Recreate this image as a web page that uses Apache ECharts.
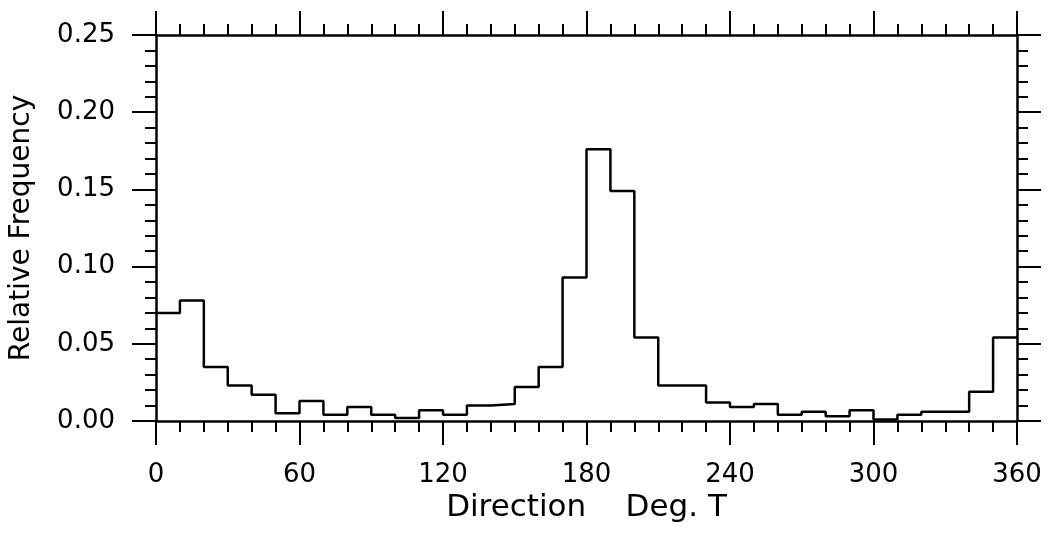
<!DOCTYPE html>
<html>
<head>
<meta charset="utf-8">
<script src="https://cdn.jsdelivr.net/npm/echarts@6/dist/echarts.min.js"></script>
<style>
  html, body { margin: 0; padding: 0; background: #fff; }
  #chart { width: 1055px; height: 539px; }
</style>
</head>
<body>
<div id="chart"></div>
<script>
// 方向分箱起点（度），每箱 10 度
var binStart = [0, 10, 20, 30, 40, 50, 60, 70, 80, 90, 100, 110,
    120, 130, 140, 150, 160, 170, 180, 190, 200, 210, 220, 230,
    240, 250, 260, 270, 280, 290, 300, 310, 320, 330, 340, 350];
var binWidth = 10;
// 相对频率
var freq = [0.070, 0.078, 0.035, 0.023, 0.017, 0.005, 0.013, 0.004, 0.009, 0.004, 0.002, 0.007,
    0.004, 0.010, 0.011, 0.022, 0.035, 0.093, 0.176, 0.149, 0.054, 0.023, 0.023, 0.012,
    0.009, 0.011, 0.004, 0.006, 0.003, 0.007, 0.001, 0.004, 0.006, 0.006, 0.019, 0.054];
var xTicks = [0, 60, 120, 180, 240, 300, 360];
var yTicks = [0, 0.05, 0.10, 0.15, 0.20, 0.25];

// 阶梯线的点：每个箱的起点，再补上最后一个箱的终点
var stepData = binStart.map(function (x, i) { return [x, freq[i]]; });
stepData.push([binStart[binStart.length - 1] + binWidth, freq[freq.length - 1]]);

var font = 'DejaVu Sans';
var black = '#000';

function xAxisOpt(pos, showLabel) {
    return {
        type: 'value',
        position: pos,
        min: xTicks[0],
        max: xTicks[xTicks.length - 1],
        interval: xTicks[1] - xTicks[0],
        axisLine: { onZero: false, lineStyle: { color: black, width: 2.5 } },
        axisTick: { length: 24, lineStyle: { color: black, width: 2 } },
        minorTick: { show: true, splitNumber: 6, length: 11, lineStyle: { color: black, width: 2 } },
        splitLine: { show: false },
        axisLabel: { show: showLabel, margin: 41, color: black, fontFamily: font, fontSize: 26 }
    };
}

function yAxisOpt(pos, showLabel) {
    return {
        type: 'value',
        position: pos,
        min: yTicks[0],
        max: yTicks[yTicks.length - 1],
        interval: yTicks[1] - yTicks[0],
        axisLine: { onZero: false, lineStyle: { color: black, width: 2.5 } },
        axisTick: { length: 24, lineStyle: { color: black, width: 2 } },
        minorTick: { show: true, splitNumber: 5, length: 11, lineStyle: { color: black, width: 2 } },
        splitLine: { show: false },
        axisLabel: {
            show: showLabel, margin: 41, color: black, fontFamily: font, fontSize: 26,
            formatter: function (v) { return v.toFixed(2); }
        }
    };
}

var chart = echarts.init(document.getElementById('chart'));

var xBottom = xAxisOpt('bottom', true);
xBottom.name = 'Direction    Deg. T';
xBottom.nameLocation = 'middle';
xBottom.nameGap = 69;
xBottom.nameTextStyle = { color: black, fontFamily: font, fontSize: 31 };

var yLeft = yAxisOpt('left', true);
yLeft.name = 'Relative Frequency';
yLeft.nameLocation = 'middle';
yLeft.nameGap = 120;
yLeft.nameTextStyle = { color: black, fontFamily: font, fontSize: 28 };

var option = {
    animation: false,
    backgroundColor: '#fff',
    grid: { left: 154, right: 38, top: 35, bottom: 118 },
    xAxis: [xBottom, xAxisOpt('top', false)],
    yAxis: [yLeft, yAxisOpt('right', false)],
    series: [
        {
            type: 'line',
            step: 'end',
            symbol: 'none',
            lineStyle: { color: black, width: 2.5 },
            data: stepData
        }
    ]
};

chart.setOption(option);
</script>
</body>
</html>
